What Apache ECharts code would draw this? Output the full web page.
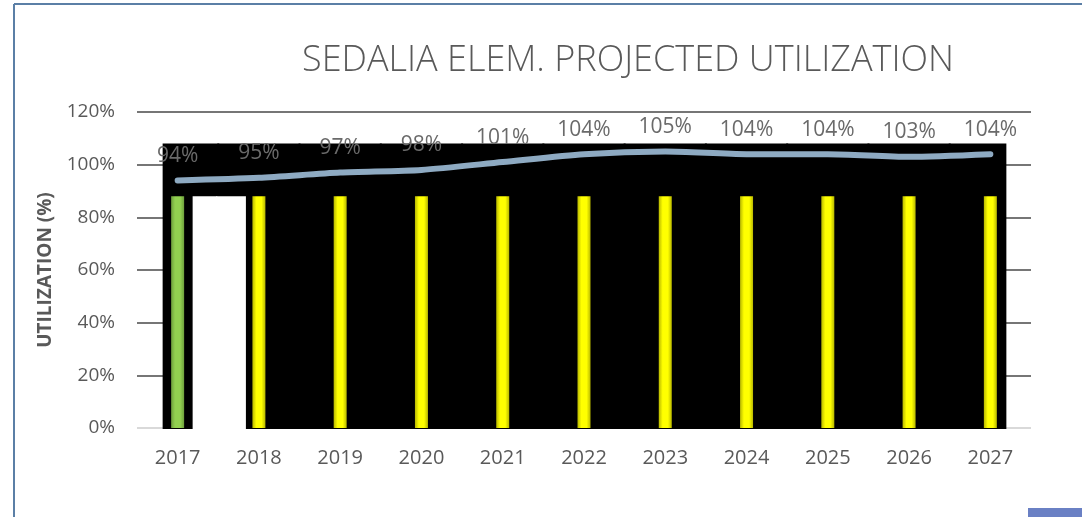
<!DOCTYPE html>
<html>
<head>
<meta charset="utf-8">
<script src="https://cdn.jsdelivr.net/npm/echarts@6/dist/echarts.min.js"></script>
<style>
html,body{margin:0;padding:0;background:#fff;}
#main{width:1082px;height:517px;}
</style>
</head>
<body>
<div id="main"></div>
<script>
var years = ['2017','2018','2019','2020','2021','2022','2023','2024','2025','2026','2027'];
var utilization = [94, 95, 97, 98, 101, 104, 105, 104, 104, 103, 104];
var barValues = [88, 88, 88, 88, 88, 88, 88, 88, 88, 88, 88];
var frameValues = [108, 108, 108, 108, 108, 108, 108, 108, 108, 108, 108];
var yTicks = [0, 20, 40, 60, 80, 100, 120];

var textGray = '#595959';
var fontName = '"Open Sans", "Noto Sans", sans-serif';

/*黑色底框（原图里的黑块），按类目轴换算位置*/
function renderFrame(params, api){
	var i = api.value(0);
	var top = api.coord([i, api.value(1)]);
	var base = api.coord([i, 0]);
	var notch = api.coord([i, barValues[i]]);
	var band = api.size([1, 0])[0];
	var x0 = top[0] - band / 2 - 1;
	var x1 = top[0] + band / 2 + 1;
	if(i === 0){ x0 = top[0] - 15; }
	if(i === years.length - 1){ x1 = top[0] + 16; }
	var kids = [{
		type: 'rect',
		shape: {x: x0, y: top[1], width: x1 - x0, height: base[1] - top[1] + 1},
		style: {fill: '#000'}
	}];
	/*2017和2018之间的白色缺口*/
	if(i === 0){
		kids.push({type:'rect', shape:{x: top[0] + 15, y: notch[1], width: band / 2 - 15 + 2, height: base[1] - notch[1] + 2}, style:{fill:'#fff'}});
	}
	if(i === 1){
		kids.push({type:'rect', shape:{x: top[0] - band / 2 - 2, y: notch[1], width: band / 2 - 11, height: base[1] - notch[1] + 2}, style:{fill:'#fff'}});
	}
	return {type: 'group', children: kids};
}

var myChart = echarts.init(document.getElementById('main'));
var option = {
	backgroundColor: '#fff',
	animation: false,
	title: {
		text: 'SEDALIA ELEM. PROJECTED UTILIZATION',
		left: 623,
		top: 38,
		textAlign: 'center',
		textStyle: {
			color: textGray,
			fontSize: 36,
			fontWeight: 300,
			fontFamily: fontName
		}
	},
	graphic: [
		{type:'line', shape:{x1:14, y1:4, x2:1082, y2:4}, style:{stroke:'#5b7fa6', lineWidth:2}},
		{type:'line', shape:{x1:14, y1:4, x2:14, y2:517}, style:{stroke:'#5b7fa6', lineWidth:2}},
		{type:'rect', shape:{x:1028, y:508, width:54, height:9}, style:{fill:'#6a80c4'}}
	],
	grid: {
		left: 137,
		right: 51,
		top: 112,
		bottom: 89
	},
	xAxis: {
		type: 'category',
		data: years,
		axisLine: {show: false},
		axisTick: {show: false},
		axisLabel: {
			color: textGray,
			fontSize: 20,
			fontFamily: fontName,
			margin: 20
		}
	},
	yAxis: {
		type: 'value',
		min: yTicks[0],
		max: yTicks[yTicks.length - 1],
		interval: 20,
		name: 'UTILIZATION (%)',
		nameLocation: 'middle',
		nameGap: 82,
		nameTextStyle: {
			color: textGray,
			fontSize: 19,
			fontWeight: 'bold',
			fontFamily: fontName
		},
		axisLabel: {
			color: textGray,
			fontSize: 19,
			fontFamily: fontName,
			margin: 22,
			formatter: '{value}%'
		},
		splitLine: {
			lineStyle: {
				color: ['#d9d9d9','#767676','#767676','#767676','#767676','#767676','#767676'],
				width: 2
			}
		}
	},
	series: [
		{
			name: 'frame',
			type: 'custom',
			renderItem: renderFrame,
			data: frameValues.map(function(v, i){ return [i, v]; }),
			silent: true
		},
		{
			name: 'bars',
			type: 'bar',
			barWidth: 13,
			data: barValues,
			itemStyle: {
				color: function(p){
					if(p.dataIndex === 0){
						return new echarts.graphic.LinearGradient(0,0,1,0,[
							{offset:0, color:'#6e9f3c'},
							{offset:0.3, color:'#92d050'},
							{offset:0.7, color:'#92d050'},
							{offset:1, color:'#6e9f3c'}
						]);
					}
					return new echarts.graphic.LinearGradient(0,0,1,0,[
						{offset:0, color:'#b8b800'},
						{offset:0.3, color:'#ffff00'},
						{offset:0.7, color:'#ffff00'},
						{offset:1, color:'#b8b800'}
					]);
				}
			}
		},
		{
			name: 'utilization',
			type: 'line',
			data: utilization,
			smooth: 0.25,
			symbol: 'circle',
			symbolSize: 2,
			showSymbol: true,
			itemStyle: {color: '#8eaac2'},
			lineStyle: {
				color: '#8eaac2',
				width: 6,
				cap: 'round'
			},
			label: {
				show: true,
				position: 'top',
				distance: 13,
				formatter: '{c}%',
				color: '#6a6a6a',
				fontSize: 21,
				fontFamily: fontName
			},
			z: 5
		}
	]
};
myChart.setOption(option);
</script>
</body>
</html>
